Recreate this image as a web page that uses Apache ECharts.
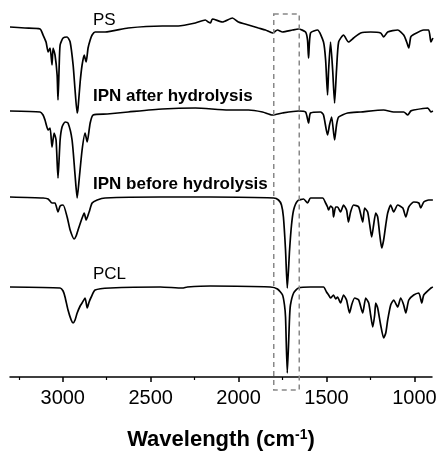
<!DOCTYPE html>
<html>
<head>
<meta charset="utf-8">
<script src="https://cdn.jsdelivr.net/npm/echarts@6/dist/echarts.min.js"></script>
<style>
html,body{margin:0;padding:0;background:#fff;}
#c{width:437px;height:451px;}
</style>
</head>
<body>
<div id="c"></div>
<script>
// Wavenumber (cm-1) vs. stacked transmittance (arbitrary units, offset per trace)
const majorTicks = [3000, 2500, 2000, 1500, 1000];
const minorTicks = [3250, 2750, 2250, 1750, 1250];
const seriesNames = ['PS', 'IPN after hydrolysis', 'IPN before hydrolysis', 'PCL'];
const highlightRange = [1800, 1655];

const psData = [
[3300,350],[3215,349],[3129,348],[3112,342],[3095,335],[3083,325],[3072,329],[3061,312],[3055,329],[3044,322],
[3032,302],[3027,277],[3021,307],[3015,332],[2998,339],[2975,340],[2958,335],[2941,312],[2930,287],[2918,264],
[2913,269],[2901,295],[2890,312],[2878,322],[2867,315],[2856,329],[2844,337],[2833,342],[2816,345],[2759,345],
[2628,349],[2434,351],[2343,351],[2246,354],[2189,357],[2172,355],[2160,354],[2149,358],[2092,355],[2035,359],
[2001,355],[1944,352],[1887,349],[1847,347],[1807,344],[1779,347],[1750,345],[1693,347],[1659,348],[1619,345],
[1608,337],[1602,319],[1591,344],[1551,347],[1517,335],[1505,317],[1494,282],[1488,307],[1477,335],[1465,307],
[1454,274],[1443,307],[1431,335],[1403,342],[1375,335],[1346,339],[1306,344],[1249,345],[1192,344],[1175,340],
[1152,345],[1095,347],[1061,342],[1044,335],[1032,329],[1021,340],[1009,342],[947,347],[919,347],[906,335],[895,339]
];

const ipnAfterData = [
[3300,266],[3129,265],[3112,262],[3101,257],[3083,247],[3072,249],[3061,230],[3049,244],[3038,237],[3027,199],
[3015,237],[3004,250],[2987,255],[2970,254],[2947,237],[2930,202],[2918,179],[2907,197],[2890,227],[2873,244],
[2861,235],[2844,254],[2827,262],[2747,263],[2628,265],[2434,268],[2246,269],[2058,267],[1944,267],[1864,265],
[1807,262],[1750,264],[1659,266],[1619,265],[1602,254],[1591,264],[1534,265],[1517,262],[1494,242],[1483,252],
[1471,260],[1454,237],[1443,252],[1431,260],[1380,264],[1306,265],[1175,267],[1118,265],[1061,265],[1038,262],
[1021,266],[1004,267],[924,269],[906,265],[895,266]
];

const ipnBeforeData = [
[3300,180],[3112,179],[3083,178],[3061,174],[3044,174],[3027,165],[3015,171],[2998,172],[2975,160],[2958,147],
[2935,138],[2924,141],[2913,147],[2890,159],[2878,164],[2867,157],[2850,165],[2833,174],[2804,177],[2759,179],
[2445,180],[2160,180],[1801,179],[1773,177],[1756,172],[1745,160],[1733,127],[1723,89],[1710,127],[1699,152],
[1687,167],[1665,176],[1630,178],[1608,174],[1591,179],[1522,179],[1505,174],[1494,170],[1488,167],[1477,171],
[1465,169],[1460,160],[1448,170],[1437,170],[1420,165],[1403,172],[1386,167],[1375,155],[1363,165],[1346,172],
[1317,170],[1294,155],[1283,169],[1266,165],[1254,152],[1243,140],[1232,152],[1220,164],[1209,160],[1197,142],
[1186,129],[1175,137],[1163,152],[1152,164],[1135,172],[1118,165],[1095,172],[1066,169],[1049,160],[1032,170],
[1004,175],[975,174],[964,169],[947,175],[919,177],[895,177]
];

const pclData = [
[3300,90],[3015,89],[2998,86],[2987,80],[2970,67],[2952,57],[2941,54],[2930,57],[2918,64],[2901,71],
[2890,74],[2873,79],[2861,69],[2850,75],[2838,80],[2816,87],[2730,89],[2445,90],[2320,89],[2291,90],
[2160,91],[1819,90],[1779,88],[1750,82],[1739,72],[1733,60],[1723,4],[1710,60],[1705,72],[1687,84],
[1659,89],[1591,90],[1517,90],[1500,85],[1488,82],[1477,79],[1460,82],[1448,78],[1437,80],[1420,74],
[1403,82],[1386,77],[1369,64],[1357,72],[1340,79],[1317,77],[1294,64],[1277,79],[1260,74],[1249,62],
[1237,50],[1226,62],[1220,74],[1209,69],[1192,52],[1175,39],[1163,44],[1152,57],[1135,72],[1118,77],
[1095,70],[1078,79],[1061,72],[1049,64],[1032,77],[1004,82],[975,84],[958,74],[947,82],[906,89],[895,90]
];

const allData = [psData, ipnAfterData, ipnBeforeData, pclData];
const FONT = '"Liberation Sans", Arial, sans-serif';

const chart = echarts.init(document.getElementById('c'), null, {renderer: 'canvas'});
const xMin = 900, xMax = 3300;

chart.setOption({
  animation: false,
  backgroundColor: '#fff',
  grid: {left: 10, right: 5, top: 0, bottom: 74, containLabel: false, outerBoundsMode: 'none'},
  xAxis: [{
    type: 'value', min: xMin, max: xMax, inverse: true,
    name: 'Wavelength (cm{sup|-1})', nameLocation: 'middle', nameGap: 51,
    nameTextStyle: {fontFamily: FONT, fontSize: 22, fontWeight: 'bold', color: '#000',
      rich: {sup: {fontFamily: FONT, fontSize: 14, fontWeight: 'bold', verticalAlign: 'top', color: '#000', padding: [0,0,10,0]}}},
    axisLine: {show: true, lineStyle: {color: '#000', width: 1.5}},
    axisTick: {show: true, inside: false, length: 5, lineStyle: {color: '#000', width: 1.5}, customValues: majorTicks},
    axisLabel: {show: true, customValues: majorTicks, formatter: v => String(v), fontFamily: FONT, fontSize: 20, color: '#000', margin: 11},
    splitLine: {show: false}
  }, {
    type: 'value', min: xMin, max: xMax, inverse: true, position: 'bottom',
    axisLine: {show: false},
    axisTick: {show: true, inside: false, length: 3, lineStyle: {color: '#000', width: 1.2}, customValues: minorTicks},
    axisLabel: {show: false},
    splitLine: {show: false}
  }],
  yAxis: {type: 'value', min: 0, max: 377, show: false},
  series: allData.map((d, i) => ({
    name: seriesNames[i], type: 'line', data: d, xAxisIndex: 0,
    showSymbol: false, smooth: 0.2,
    lineStyle: {color: '#000', width: 1.7}
  }))
});

// Annotations: dashed box around carbonyl region, trace labels
const p1 = chart.convertToPixel({gridIndex: 0}, [highlightRange[0], 363]);
const p2 = chart.convertToPixel({gridIndex: 0}, [highlightRange[1], -13]);
const labelY = [20.5, 96.5, 184, 274.5];
const labelBold = [false, true, true, false];
chart.setOption({
  graphic: [
    {type: 'rect', z: 10, shape: {x: p1[0], y: p1[1], width: p2[0] - p1[0], height: p2[1] - p1[1]},
     style: {fill: 'none', stroke: '#888', lineWidth: 1.5, lineDash: [5, 4]}}
  ].concat(seriesNames.map((n, i) => ({
    type: 'text', z: 10, x: 93, y: labelY[i],
    style: {text: n, fontFamily: FONT, fontSize: 17, fontWeight: labelBold[i] ? 'bold' : 'normal',
      fill: '#000', textVerticalAlign: 'middle', verticalAlign: 'middle'}
  })))
});
</script>
</body>
</html>
